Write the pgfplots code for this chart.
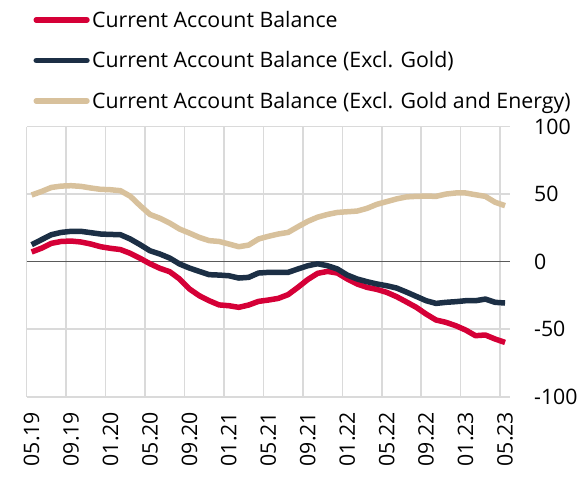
\documentclass[border=0pt]{standalone}
\usepackage{pgfplots}
\usepackage{pgfplotstable}
\pgfplotsset{compat=1.18}
\usepackage{fontspec}
\setmainfont{Open Sans}

\definecolor{cabred}{HTML}{D50037}
\definecolor{cabnavy}{HTML}{1C2F45}
\definecolor{cabbeige}{HTML}{D8C19C}
\definecolor{gridgray}{HTML}{DADADA}
\definecolor{zerogray}{HTML}{5A5A5A}

% Monthly current account balance, 05.19 -- 05.23 (index 0 = 05.19)
\pgfplotstableread{
i   cab    exg    exge
0   7.2   12.6   49.4
1   10.0  16.3   52.0
2   13.6  20.0   55.0
3   15.0  21.7   56.0
4   15.3  22.5   56.3
5   14.6  22.5   55.8
6   13.1  21.5   54.6
7   11.1  20.5   53.6
8   9.9   20.2   53.3
9   9.0   20.0   52.6
10  6.2   16.8   48.5
11  2.5   12.6   41.5
12  -1.5  8.1    35.0
13  -4.9  5.7    32.2
14  -7.4  2.7    28.6
15  -12.8 -1.7   24.2
16  -20.2 -4.7   21.2
17  -25.2 -7.2   18.0
18  -28.9 -9.6   15.6
19  -32.0 -9.9   15.0
20  -32.6 -10.4  13.1
21  -33.8 -12.1  11.1
22  -32.1 -11.6  12.3
23  -29.4 -8.4   16.8
24  -28.4 -7.9   18.8
25  -27.2 -7.9   20.5
26  -24.4 -7.9   21.7
27  -19.0 -5.4   25.9
28  -13.2 -3.0   29.9
29  -8.6  -1.5   33.0
30  -7.2  -3.0   35.0
31  -8.4  -5.4   36.5
32  -12.8 -9.9   37.0
33  -16.5 -12.8  37.5
34  -19.0 -14.8  39.5
35  -20.5 -16.5  42.5
36  -22.7 -17.8  44.5
37  -25.9 -19.5  46.5
38  -29.8 -22.5  48.0
39  -33.8 -25.7  48.4
40  -38.8 -28.9  48.6
41  -43.2 -30.9  48.4
42  -44.9 -30.1  50.1
43  -47.4 -29.6  50.9
44  -50.6 -28.9  50.9
45  -54.8 -28.9  49.6
46  -54.3 -27.7  48.4
47  -57.3 -30.1  44.0
48  -59.8 -30.6  41.5
}\cadata

\begin{document}
\begin{tikzpicture}
\path[use as bounding box] (-26.7pt,-82.3pt) rectangle (556.3pt,396.7pt);
\begin{axis}[
  at={(0pt,0pt)}, anchor=south west,
  scale only axis,
  width=483.3pt, height=270pt,
  xmin=-0.5, xmax=48.5,
  ymin=-100, ymax=100,
  axis line style={draw=none},
  tick style={draw=none},
  major tick length=0pt, minor tick length=0pt,
  xtick={0,4,...,48},
  xticklabels={05.19,09.19,01.20,05.20,09.20,01.21,05.21,09.21,01.22,05.22,09.22,01.23,05.23},
  minor xtick={-0.5,3.5,...,47.5},
  ytick={-100,-50,0,50,100},
  yticklabels={-100,-50,0,50,100},
  minor ytick={-100,-50,50,100},
  minor grid style={color=gridgray, line width=1.6pt},
  xminorgrids=true, yminorgrids=true,
  extra y ticks={0},
  extra y tick labels={},
  extra y tick style={grid=major, major grid style={color=zerogray, line width=1.1pt}},
  yticklabel pos=right,
  tick label style={font=\fontsize{21.3}{25}\selectfont},
  yticklabel style={anchor=west, inner sep=0pt, xshift=24pt},
  xticklabel style={yshift=-15pt, rotate=90, anchor=east, inner sep=0pt},
  legend style={
    at={(0.01407,1.423)}, anchor=north west,
    draw=none, fill=none, inner sep=0pt, outer sep=0pt,
    row sep=25.5pt, column sep=2.5pt,
    font=\fontsize{21.3}{25}\selectfont,
    nodes={inner sep=0pt, text height=15pt, text depth=0pt},
  },
  legend cell align=left,
  legend image code/.code={\draw[#1, line cap=round] (2.5pt,0pt) -- (53.2pt,0pt);},
  every axis plot/.append style={line width=5.5pt, line join=round},
]
\addplot[cabred] table[x=i, y=cab] {\cadata};
\addlegendentry{Current Account Balance}
\addplot[cabnavy] table[x=i, y=exg] {\cadata};
\addlegendentry{Current Account Balance (Excl. Gold)}
\addplot[cabbeige] table[x=i, y=exge] {\cadata};
\addlegendentry{Current Account Balance (Excl. Gold and Energy)}
\end{axis}
\end{tikzpicture}
\end{document}
